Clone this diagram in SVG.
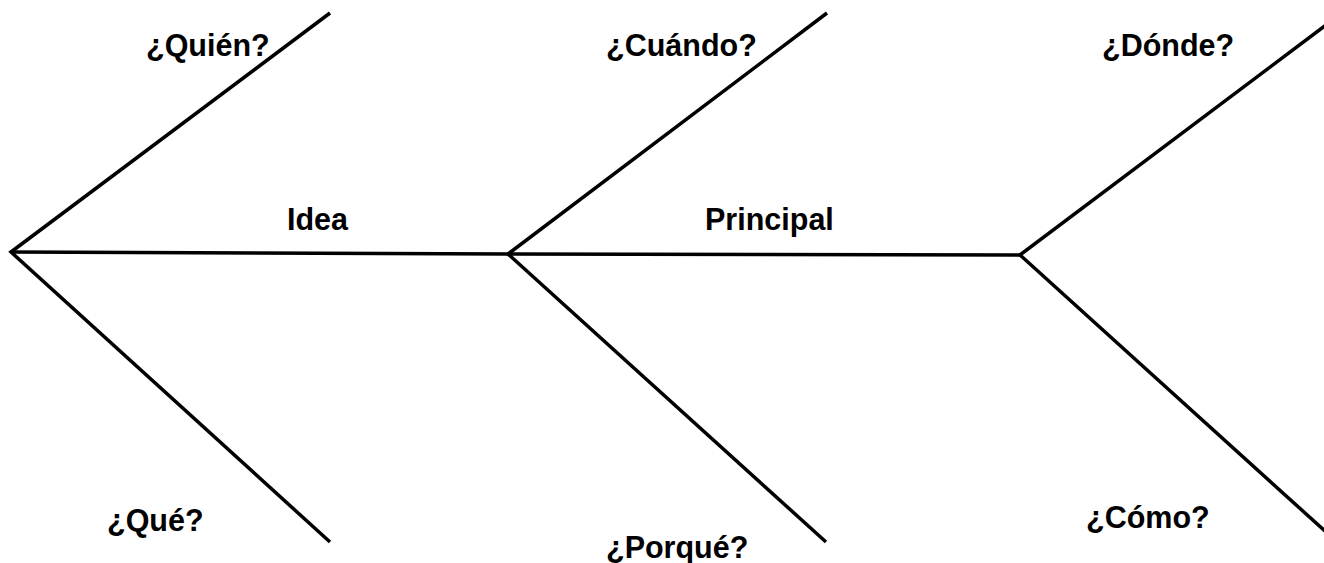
<svg xmlns="http://www.w3.org/2000/svg" width="1324" height="563" viewBox="0 0 1324 563">
<style>
.ln{stroke:#000;stroke-width:3.5;fill:none;stroke-linecap:butt;stroke-linejoin:miter}
.t{font-family:"Liberation Sans",Arial,sans-serif;font-weight:bold;font-size:30.5px;fill:#000}
</style>
<rect width="1324" height="563" fill="#fff"/>
<g id="connectors">
<path class="ln" d="M330,13 L11,252 L330,542"/>
<path class="ln" d="M11,252 L508,254 L1020,255"/>
<path class="ln" d="M827,13 L508,254 L826,542"/>
<path class="ln" d="M1326,25 L1020,255 L1326,532"/>
</g>
<g id="quien"><text class="t" x="146" y="56">¿Quién?</text></g>
<g id="cuando"><text class="t" x="606" y="56">¿Cuándo?</text></g>
<g id="donde"><text class="t" x="1102" y="56">¿Dónde?</text></g>
<g id="idea"><text class="t" x="287" y="230">Idea</text></g>
<g id="principal"><text class="t" x="705" y="230">Principal</text></g>
<g id="que"><text class="t" x="107" y="531">¿Qué?</text></g>
<g id="porque"><text class="t" x="606" y="558">¿Porqué?</text></g>
<g id="como"><text class="t" x="1086" y="528">¿Cómo?</text></g>
</svg>
